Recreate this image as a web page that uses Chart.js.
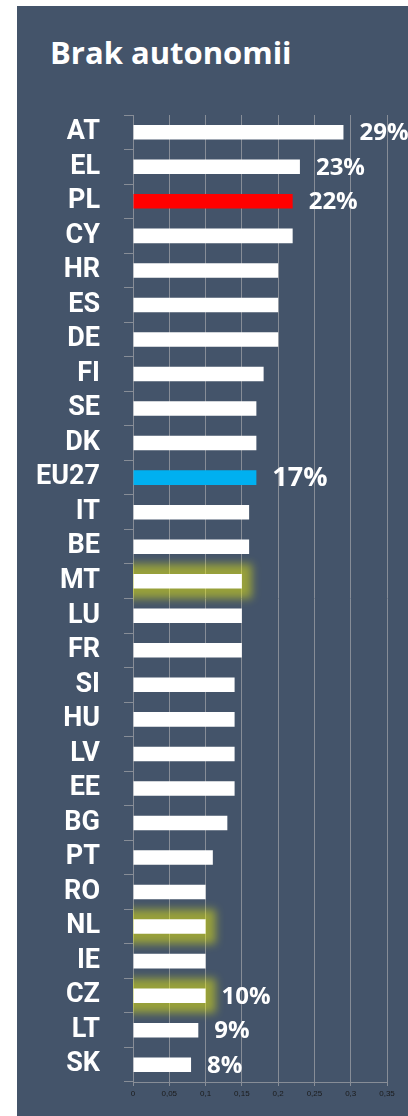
<!DOCTYPE html>
<html>
<head>
<meta charset="utf-8">
<script src="https://cdn.jsdelivr.net/npm/chart.js@4"></script>
<style>
  body { margin: 0; background: #fff; }
  #panel { position: absolute; left: 17px; top: 6px; width: 391px; height: 1110px; background: #44546a; }
  #panel h1 { position: absolute; left: 33px; top: 31px; margin: 0; color: #fff;
              font: bold 31px/31px "Open Sans", sans-serif; white-space: nowrap; }
  #chart { position: absolute; left: 0; top: 0; }
</style>
</head>
<body>
<div id="panel">
  <h1>Brak autonomii</h1>
  <canvas id="chart" width="391" height="1110"></canvas>
</div>
<script>
const countries = ['AT', 'EL', 'PL', 'CY', 'HR', 'ES', 'DE', 'FI', 'SE', 'DK', 'EU27', 'IT', 'BE', 'MT',
                   'LU', 'FR', 'SI', 'HU', 'LV', 'EE', 'BG', 'PT', 'RO', 'NL', 'IE', 'CZ', 'LT', 'SK'];
const shares = [0.29, 0.23, 0.22, 0.22, 0.20, 0.20, 0.20, 0.18, 0.17, 0.17, 0.17, 0.16, 0.16, 0.15,
                0.15, 0.15, 0.14, 0.14, 0.14, 0.14, 0.13, 0.11, 0.10, 0.10, 0.10, 0.10, 0.09, 0.08];
// only some bars carry a label in the original
const valueLabels = ['29%', '23%', '22%', '', '', '', '', '', '', '', '17%', '', '', '',
                     '', '', '', '', '', '', '', '', '', '', '', '10%', '9%', '8%'];
const glowing = ['MT', 'NL', 'CZ'];

const gridColor = '#878d97';
const barColors = countries.map(c => c === 'PL' ? '#ff0000' : c === 'EU27' ? '#00b0f0' : '#ffffff');

// soft yellow halo under the highlighted bars
const glowPlugin = {
    id: 'glow',
    beforeDatasetsDraw(chart) {
        const ctx = chart.ctx;
        const area = chart.chartArea;
        const meta = chart.getDatasetMeta(0);
        ctx.save();
        ctx.beginPath();
        ctx.rect(area.left, area.top, area.right - area.left, area.bottom - area.top);
        ctx.clip();
        ctx.filter = 'blur(4px)';
        ctx.fillStyle = 'rgba(255, 255, 0, 0.45)';
        countries.forEach((c, i) => {
            if (!glowing.includes(c)) return;
            const bar = meta.data[i];
            const h = bar.height;
            ctx.fillRect(bar.base - 10, bar.y - h / 2 - 10, bar.x - bar.base + 20, h + 20);
        });
        ctx.restore();
    }
};

// percentage labels to the right of the bars
const labelPlugin = {
    id: 'valueLabels',
    afterDatasetsDraw(chart) {
        const ctx = chart.ctx;
        const meta = chart.getDatasetMeta(0);
        ctx.save();
        ctx.fillStyle = '#ffffff';
        ctx.textBaseline = 'middle';
        meta.data.forEach((bar, i) => {
            if (!valueLabels[i]) return;
            const size = countries[i] === 'EU27' ? 27 : 24;
            ctx.font = 'bold ' + size + 'px "Open Sans"';
            ctx.fillText(valueLabels[i], bar.x + 16, bar.y + 1);
        });
        ctx.restore();
    }
};

new Chart(document.getElementById('chart'), {
    type: 'bar',
    data: {
        labels: countries,
        datasets: [{
            data: shares,
            backgroundColor: barColors,
            borderWidth: 0,
            barPercentage: 0.42,
            categoryPercentage: 1
        }]
    },
    options: {
        indexAxis: 'y',
        responsive: false,
        animation: false,
        layout: { padding: { left: 0, right: 21, top: 109, bottom: 0 } },
        plugins: {
            legend: { display: false },
            tooltip: { enabled: false }
        },
        scales: {
            x: {
                min: 0,
                max: 0.35,
                afterFit: s => { s.height = 34; },
                ticks: {
                    stepSize: 0.05,
                    color: '#1b1b1b',
                    padding: 3,
                    font: { family: 'Liberation Sans', size: 8 },
                    callback: v => String(Math.round(v * 100) / 100).replace('.', ',')
                },
                grid: { color: gridColor, tickLength: 4 },
                border: { color: gridColor }
            },
            y: {
                afterFit: s => {
                    s.width = 116;
                    s.paddingTop = 0;
                    s.paddingBottom = 0;
                },
                ticks: {
                    autoSkip: false,
                    color: '#ffffff',
                    padding: 24,
                    font: { family: 'Roboto', size: 27, weight: 'bold' }
                },
                grid: { drawOnChartArea: false, tickLength: 9, color: gridColor },
                border: { color: gridColor }
            }
        }
    },
    plugins: [glowPlugin, labelPlugin]
});
</script>
</body>
</html>
